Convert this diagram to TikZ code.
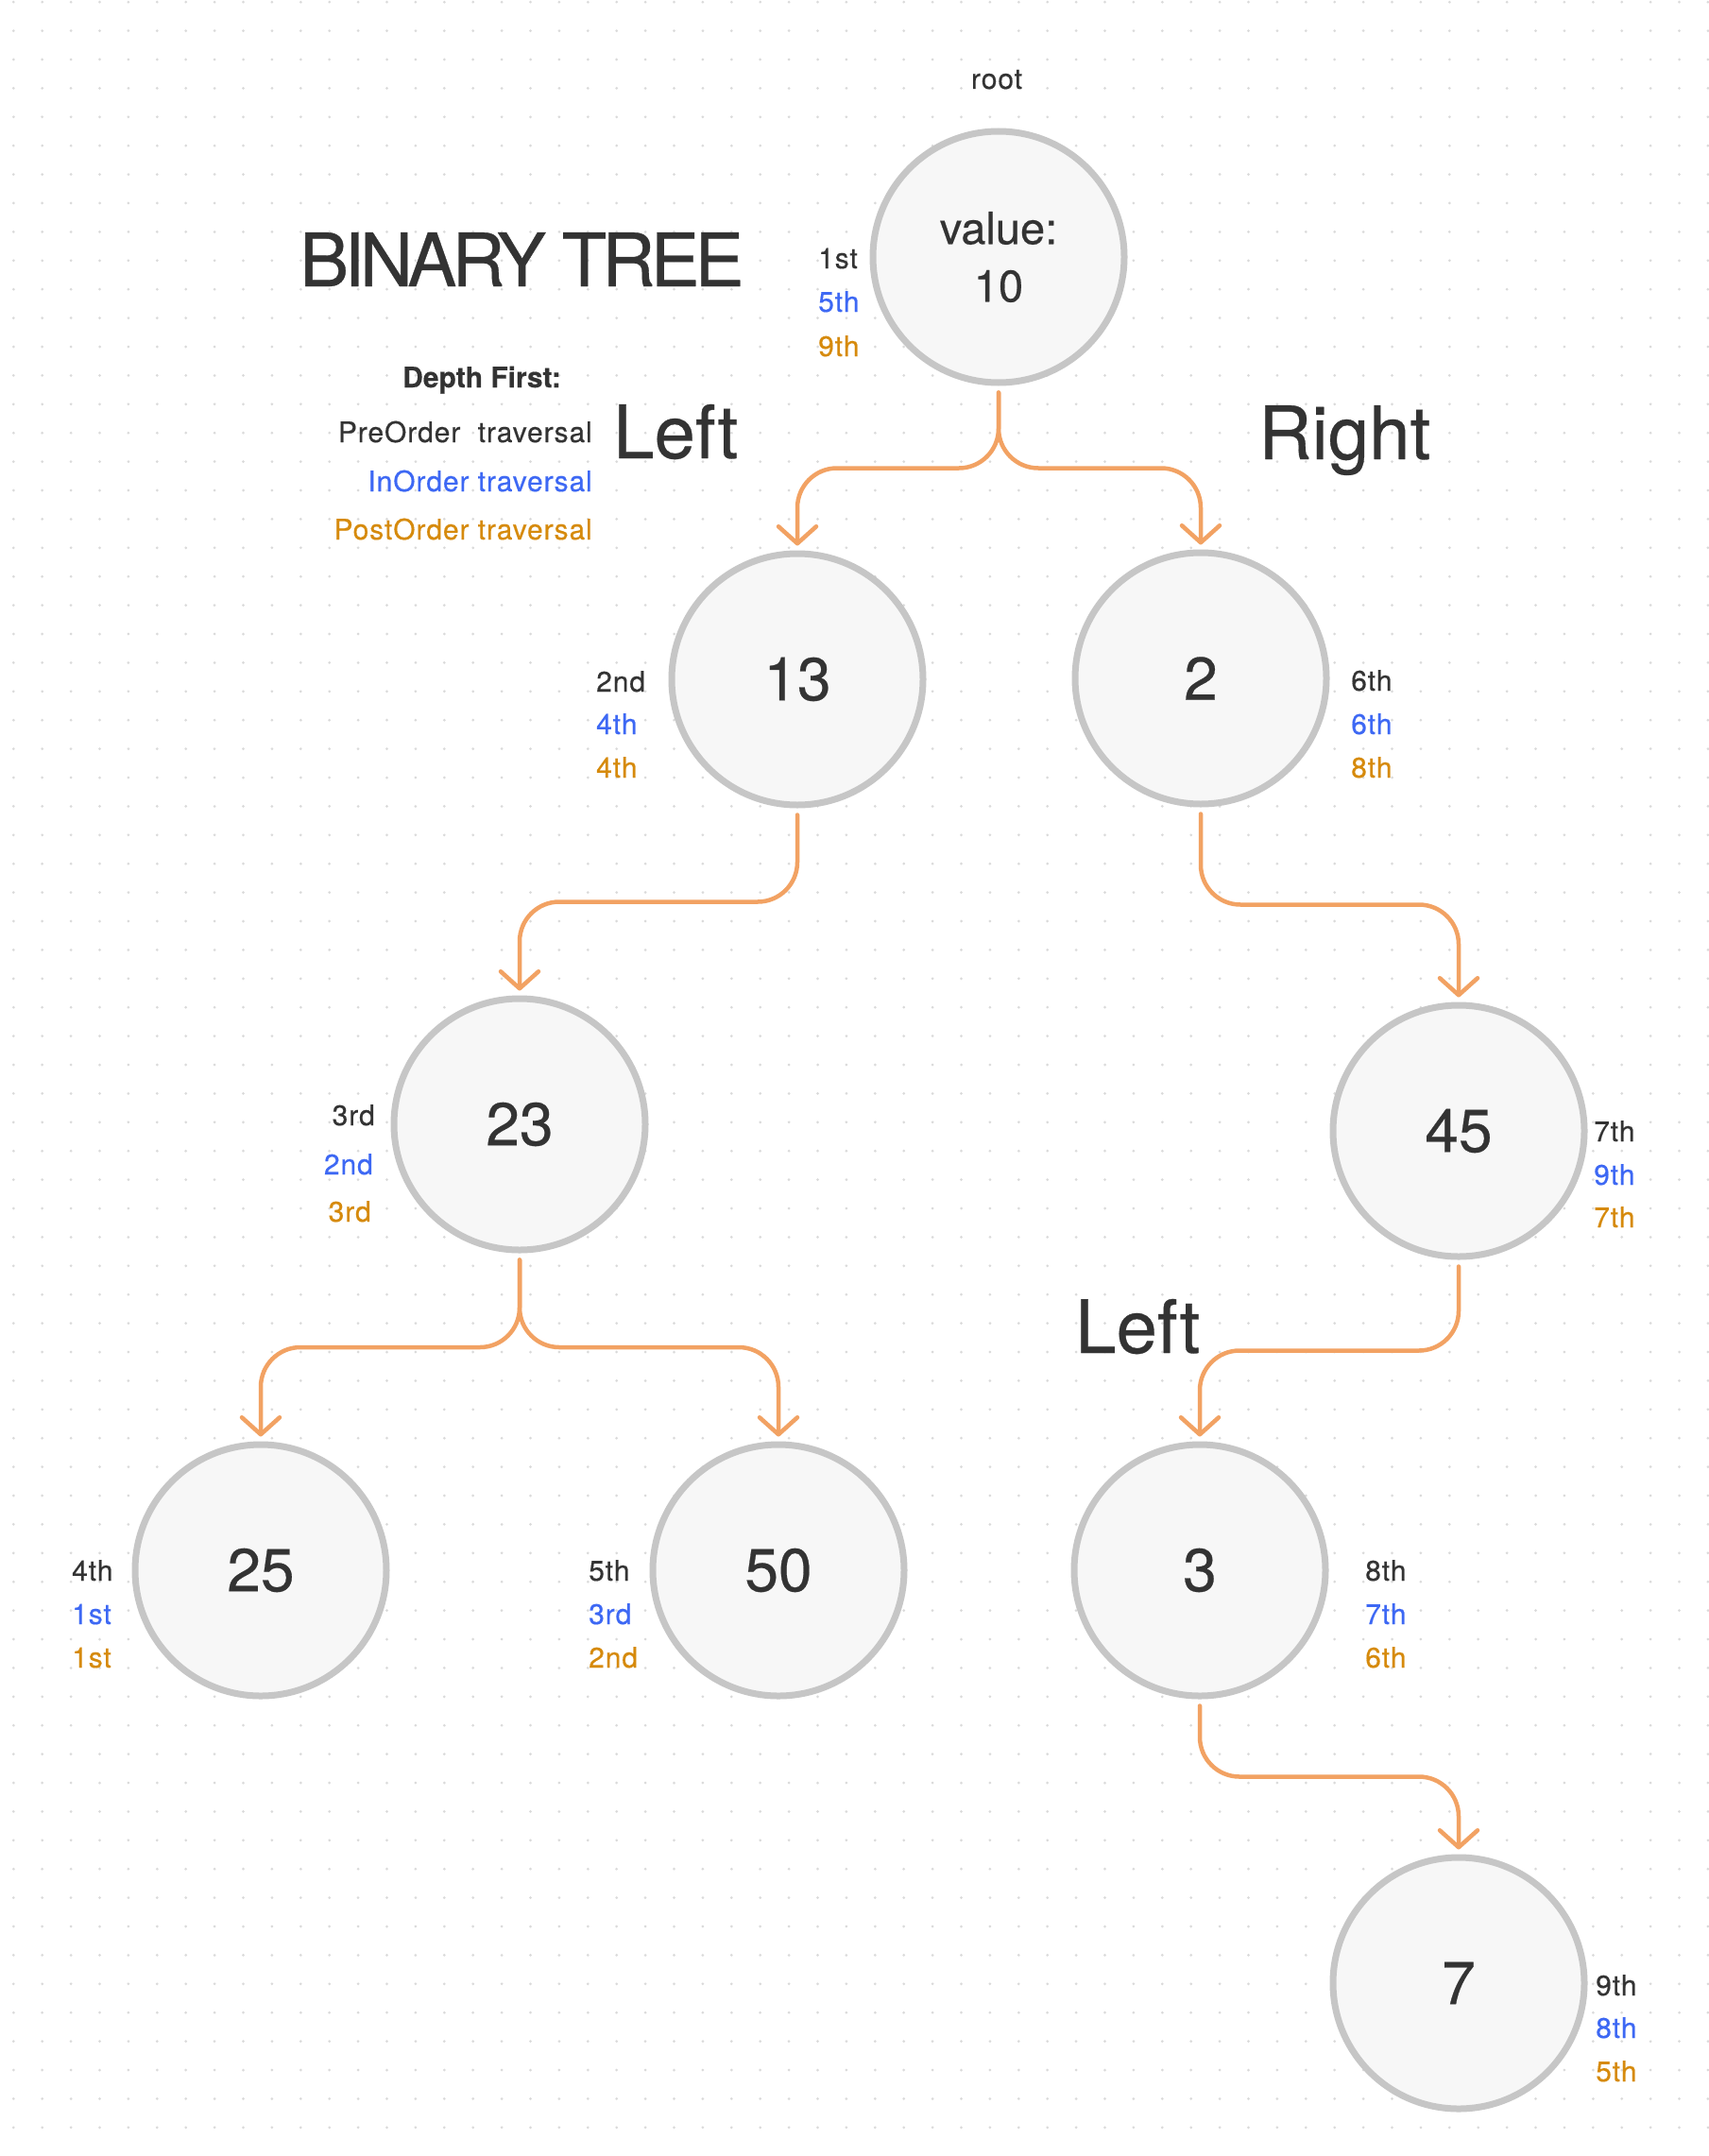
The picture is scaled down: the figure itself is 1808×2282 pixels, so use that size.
\documentclass[tikz,border=0pt]{standalone}
\usepackage{fontspec}
\setmainfont{TeX Gyre Heros}[FakeBold=0.4]
\usetikzlibrary{arrows.meta,calc}
\definecolor{ink}{HTML}{333333}
\definecolor{blu}{HTML}{3D68F4}
\definecolor{org}{HTML}{D68A0C}
\definecolor{connc}{HTML}{F2A263}
\definecolor{ring}{HTML}{C6C6C6}
\definecolor{disc}{HTML}{F7F7F7}
\definecolor{dotc}{HTML}{DADADA}
\begin{document}
\begin{tikzpicture}[x=1pt,y=-1pt,
  tnode/.style={circle, minimum size=266pt, inner sep=0pt, line width=7pt, draw=ring, fill=disc, text=ink, font=\fontsize{64}{77}\selectfont},
  lab/.style={anchor=base west, inner sep=0pt, font=\fontsize{30}{36}\selectfont\addfontfeatures{LetterSpace=3}},
  big/.style={inner sep=0pt, text=ink, font=\fontsize{78}{90}\selectfont},
  treeedge/.style={draw=connc, line width=4.5pt, rounded corners=42pt, line cap=round, shorten <=7pt, shorten >=5pt,
    -{Straight Barb[length=18pt,width=40pt,line width=4.5pt,round]}}]
\fill[white] (0,0) rectangle (1808,2282);
\useasboundingbox (0,0) rectangle (1808,2282);
\foreach \i in {0,...,59}{
  \foreach \j in {0,...,74}{
    \fill[dotc] (14.3+30.4*\i, 2.2+30.4*\j) circle (1.5pt);
  }
}
% texts
\node[lab, anchor=base, text=ink] (rootlab) at (1055,94) {root};
\node[big, anchor=base west, font=\fontsize{78}{90}\selectfont\addfontfeatures{LetterSpace=-6.5}] (title) at (317,303) {BINARY TREE};
\node[inner sep=0pt, anchor=base west, text=ink, font=\fontsize{30}{36}\selectfont\bfseries] (depth) at (426,410) {Depth First:};
\node[lab, anchor=base east, text=ink] (pre) at (627,468) {PreOrder\ \ traversal};
\node[lab, anchor=base east, text=blu] (in) at (627,520) {InOrder traversal};
\node[lab, anchor=base east, text=org] (post) at (627,571) {PostOrder traversal};
\node[big, anchor=base west] (left1) at (649,485) {Left};
\node[big, anchor=base west] (right1) at (1332,486) {Right};
\node[big, anchor=base west] (left2) at (1138,1432) {Left};
% tree nodes
\node[tnode, align=center, font=\fontsize{47}{61}\selectfont] (n10) at (1057,272) {value:\\10};
\node[tnode] (n13) at (844,719) {13};
\node[tnode] (n2) at (1271,718) {2};
\node[tnode] (n23) at (550,1190) {23};
\node[tnode] (n45) at (1544,1197) {45};
\node[tnode] (n25) at (276,1662) {25};
\node[tnode] (n50) at (824,1662) {50};
\node[tnode] (n3) at (1270,1662) {3};
\node[tnode] (n7) at (1544,2099) {7};
% order labels
\node[lab,text=ink] (a10) at (866,284) {1st};
\node[lab,text=blu] (b10) at (866,330) {5th};
\node[lab,text=org] (c10) at (866,377) {9th};
\node[lab,text=ink] (a13) at (631,732) {2nd};
\node[lab,text=blu] (b13) at (631,777) {4th};
\node[lab,text=org] (c13) at (631,823) {4th};
\node[lab,text=ink] (a2) at (1430,731) {6th};
\node[lab,text=blu] (b2) at (1430,777) {6th};
\node[lab,text=org] (c2) at (1430,823) {8th};
\node[lab,anchor=base east,text=ink] (a23) at (397,1191) {3rd};
\node[lab,anchor=base east,text=blu] (b23) at (395,1243) {2nd};
\node[lab,anchor=base east,text=org] (c23) at (393,1293) {3rd};
\node[lab,text=ink] (a45) at (1687,1208) {7th};
\node[lab,text=blu] (b45) at (1687,1254) {9th};
\node[lab,text=org] (c45) at (1687,1299) {7th};
\node[lab,text=ink] (a25) at (76,1673) {4th};
\node[lab,text=blu] (b25) at (76,1719) {1st};
\node[lab,text=org] (c25) at (76,1765) {1st};
\node[lab,text=ink] (a50) at (623,1673) {5th};
\node[lab,text=blu] (b50) at (623,1719) {3rd};
\node[lab,text=org] (c50) at (623,1765) {2nd};
\node[lab,text=ink] (a3) at (1445,1673) {8th};
\node[lab,text=blu] (b3) at (1445,1719) {7th};
\node[lab,text=org] (c3) at (1445,1765) {6th};
\node[lab,text=ink] (a7) at (1689,2112) {9th};
\node[lab,text=blu] (b7) at (1689,2157) {8th};
\node[lab,text=org] (c7) at (1689,2203) {5th};
% connectors
\coordinate (m1) at ($(n10.south)!.5!(n13.north)$);
\coordinate (m2) at ($(n13.south)!.5!(n23.north)$);
\coordinate (m3) at ($(n2.south)!.5!(n45.north)$);
\coordinate (m4) at ($(n23.south)!.5!(n25.north)$);
\coordinate (m5) at ($(n45.south)!.5!(n3.north)$);
\coordinate (m6) at ($(n3.south)!.5!(n7.north)$);
\draw[treeedge] (n10.south) -- (n10.south |- m1) -| (n13.north);
\draw[treeedge] (n10.south) -- (n10.south |- m1) -| (n2.north);
\draw[treeedge] (n13.south) -- (n13.south |- m2) -| (n23.north);
\draw[treeedge] (n2.south) -- (n2.south |- m3) -| (n45.north);
\draw[treeedge] (n23.south) -- (n23.south |- m4) -| (n25.north);
\draw[treeedge] (n23.south) -- (n23.south |- m4) -| (n50.north);
\draw[treeedge] (n45.south) -- (n45.south |- m5) -| (n3.north);
\draw[treeedge] (n3.south) -- (n3.south |- m6) -| (n7.north);
\end{tikzpicture}
\end{document}
